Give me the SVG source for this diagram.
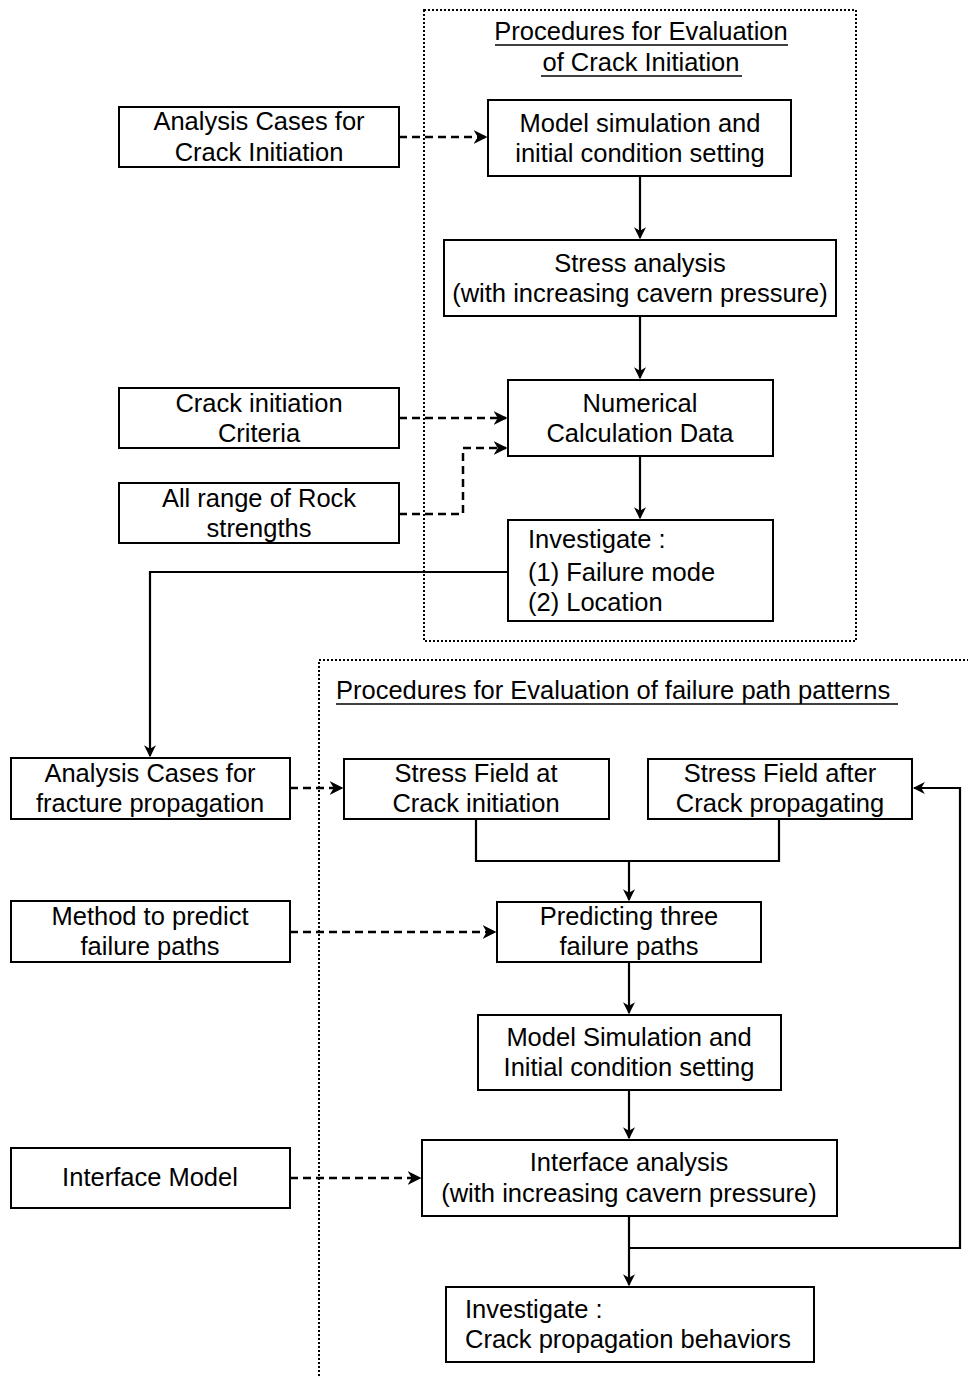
<svg xmlns="http://www.w3.org/2000/svg" width="968" height="1376" viewBox="0 0 968 1376">
<defs>
<marker id="ah" viewBox="0 0 10 10" refX="9" refY="5" markerWidth="5.5" markerHeight="5.5" orient="auto" markerUnits="strokeWidth">
<path d="M0,0 L10,5 L0,10 L3,5 z" fill="#000"/>
</marker>
<style>
.box{fill:#fff;stroke:#000;stroke-width:2}
.t{font-family:"Liberation Sans",Arial,sans-serif;font-size:25.5px;fill:#000}
.c{text-anchor:middle}
.sol{fill:none;stroke:#000;stroke-width:2.2}
.dash{fill:none;stroke:#000;stroke-width:2.5;stroke-dasharray:8 5}
.dot{fill:none;stroke:#000;stroke-width:2;stroke-dasharray:2 2}
.ul{stroke:#000;stroke-width:1.5}
</style>
</defs>
<rect width="968" height="1376" fill="#fff"/>

<!-- procedure frames -->
<g id="frame-initiation">
<rect class="dot" x="424" y="10" width="432" height="631"/>
<text class="t c" x="641" y="40">Procedures for Evaluation</text>
<line class="ul" x1="495" y1="45" x2="788" y2="45"/>
<text class="t c" x="641" y="71">of Crack Initiation</text>
<line class="ul" x1="541" y1="76" x2="742" y2="76"/>
</g>
<g id="frame-propagation">
<path class="dot" d="M319,1376 V660 H968"/>
<text class="t" x="336" y="699">Procedures for Evaluation of failure path patterns</text>
<line class="ul" x1="336" y1="704" x2="898" y2="704"/>
</g>

<!-- connectors -->
<g id="connectors">
<path class="dash" d="M399,137 H486" marker-end="url(#ah)"/>
<path class="sol" d="M640,176 V238" marker-end="url(#ah)"/>
<path class="sol" d="M640,316 V378" marker-end="url(#ah)"/>
<path class="dash" d="M399,418 H506" marker-end="url(#ah)"/>
<path class="dash" d="M399,514 H463 V448 H506" marker-end="url(#ah)"/>
<path class="sol" d="M640,456 V518" marker-end="url(#ah)"/>
<path class="sol" d="M508,572 H150 V756" marker-end="url(#ah)"/>
<path class="dash" d="M290,788 H342" marker-end="url(#ah)"/>
<path class="sol" d="M476,819 V861 H779 V819"/>
<path class="sol" d="M629,861 V900" marker-end="url(#ah)"/>
<path class="dash" d="M290,932 H495" marker-end="url(#ah)"/>
<path class="sol" d="M629,962 V1013" marker-end="url(#ah)"/>
<path class="sol" d="M629,1090 V1138" marker-end="url(#ah)"/>
<path class="dash" d="M290,1178 H420" marker-end="url(#ah)"/>
<path class="sol" d="M629,1216 V1285" marker-end="url(#ah)"/>
<path class="sol" d="M629,1248 H960 V788 H914" marker-end="url(#ah)"/>
</g>

<!-- nodes -->
<g id="n-cases-init">
<rect class="box" x="119" y="107" width="280" height="60"/>
<text class="t c" x="259" y="130">Analysis Cases for</text>
<text class="t c" x="259" y="161">Crack Initiation</text>
</g>
<g id="n-model-sim">
<rect class="box" x="488" y="100" width="303" height="76"/>
<text class="t c" x="640" y="132">Model simulation and</text>
<text class="t c" x="640" y="162">initial condition setting</text>
</g>
<g id="n-stress">
<rect class="box" x="444" y="240" width="392" height="76"/>
<text class="t c" x="640" y="272">Stress analysis</text>
<text class="t c" x="640" y="302">(with increasing cavern pressure)</text>
</g>
<g id="n-criteria">
<rect class="box" x="119" y="388" width="280" height="60"/>
<text class="t c" x="259" y="412">Crack initiation</text>
<text class="t c" x="259" y="442">Criteria</text>
</g>
<g id="n-numerical">
<rect class="box" x="508" y="380" width="265" height="76"/>
<text class="t c" x="640" y="412">Numerical</text>
<text class="t c" x="640" y="442">Calculation Data</text>
</g>
<g id="n-rock">
<rect class="box" x="119" y="483" width="280" height="60"/>
<text class="t c" x="259" y="507">All range of Rock</text>
<text class="t c" x="259" y="537">strengths</text>
</g>
<g id="n-investigate1">
<rect class="box" x="508" y="520" width="265" height="101"/>
<text class="t" x="528" y="548">Investigate :</text>
<text class="t" x="528" y="581">(1) Failure mode</text>
<text class="t" x="528" y="611">(2) Location</text>
</g>
<g id="n-cases-prop">
<rect class="box" x="11" y="758" width="279" height="61"/>
<text class="t c" x="150" y="782">Analysis Cases for</text>
<text class="t c" x="150" y="812">fracture propagation</text>
</g>
<g id="n-field-init">
<rect class="box" x="344" y="759" width="265" height="60"/>
<text class="t c" x="476" y="782">Stress Field at</text>
<text class="t c" x="476" y="812">Crack initiation</text>
</g>
<g id="n-field-after">
<rect class="box" x="648" y="759" width="264" height="60"/>
<text class="t c" x="780" y="782">Stress Field after</text>
<text class="t c" x="780" y="812">Crack propagating</text>
</g>
<g id="n-method">
<rect class="box" x="11" y="901" width="279" height="61"/>
<text class="t c" x="150" y="925">Method to predict</text>
<text class="t c" x="150" y="955">failure paths</text>
</g>
<g id="n-predict">
<rect class="box" x="497" y="902" width="264" height="60"/>
<text class="t c" x="629" y="925">Predicting three</text>
<text class="t c" x="629" y="955">failure paths</text>
</g>
<g id="n-model-sim2">
<rect class="box" x="478" y="1015" width="303" height="75"/>
<text class="t c" x="629" y="1046">Model Simulation and</text>
<text class="t c" x="629" y="1076">Initial condition setting</text>
</g>
<g id="n-interface-model">
<rect class="box" x="11" y="1148" width="279" height="60"/>
<text class="t c" x="150" y="1186">Interface Model</text>
</g>
<g id="n-interface-analysis">
<rect class="box" x="422" y="1140" width="415" height="76"/>
<text class="t c" x="629" y="1171">Interface analysis</text>
<text class="t c" x="629" y="1202">(with increasing cavern pressure)</text>
</g>
<g id="n-investigate2">
<rect class="box" x="446" y="1287" width="368" height="75"/>
<text class="t" x="465" y="1318">Investigate :</text>
<text class="t" x="465" y="1348">Crack propagation behaviors</text>
</g>
</svg>
